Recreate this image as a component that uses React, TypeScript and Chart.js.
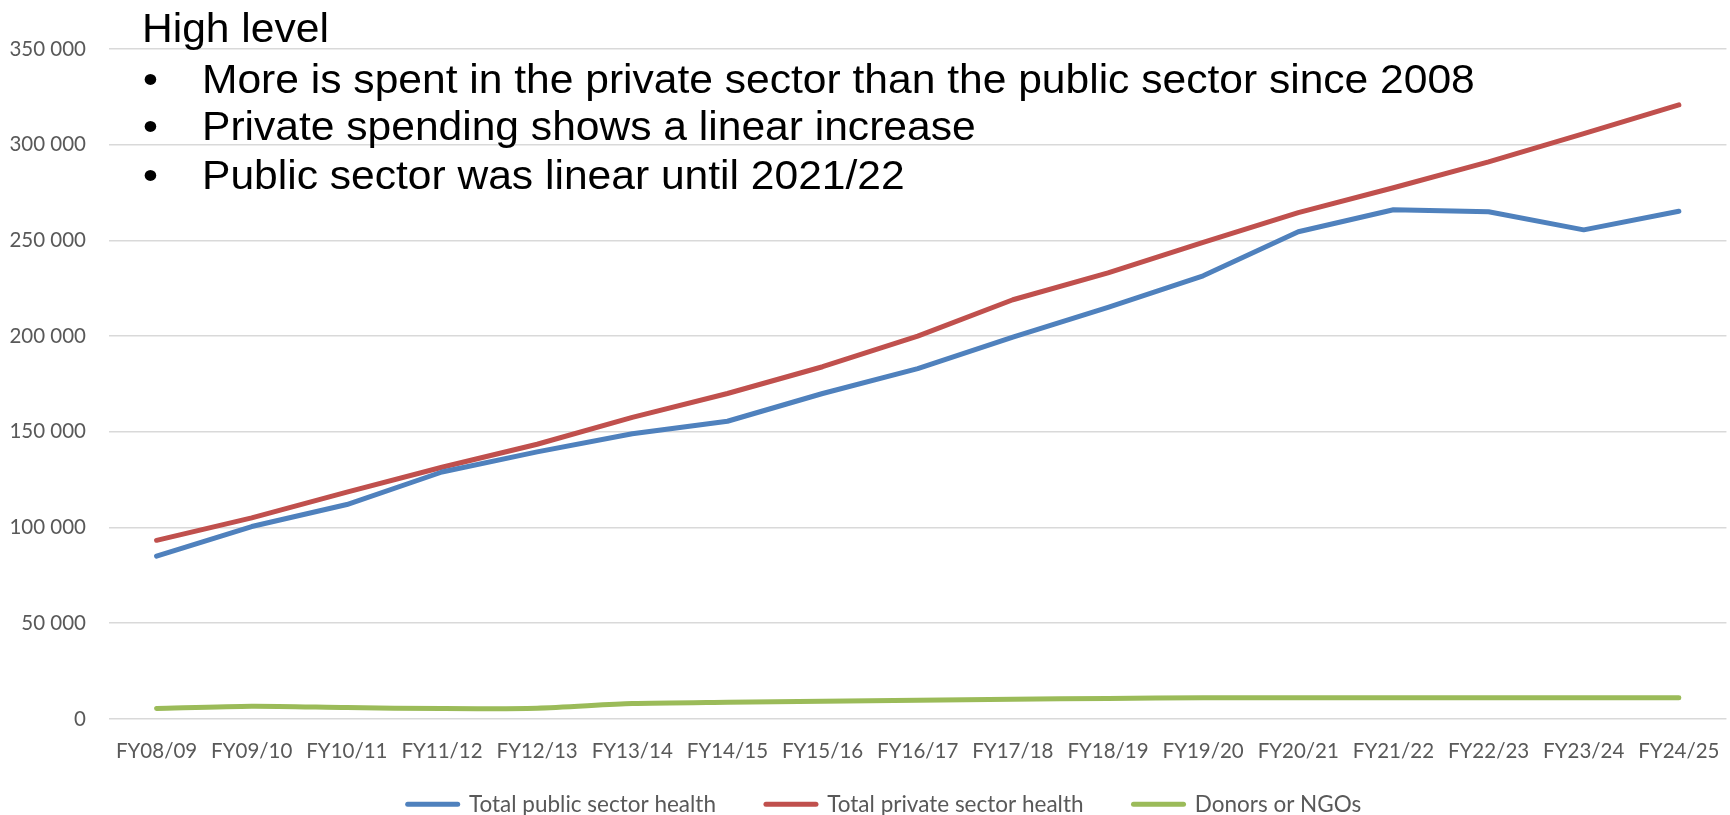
import React, { useEffect, useRef } from "react";
import { Chart, registerables } from "chart.js";

Chart.register(...registerables);

const categories = [
  "FY08/09", "FY09/10", "FY10/11", "FY11/12", "FY12/13", "FY13/14", "FY14/15", "FY15/16", "FY16/17",
  "FY17/18", "FY18/19", "FY19/20", "FY20/21", "FY21/22", "FY22/23", "FY23/24", "FY24/25",
];
const publicSector = [
  85000, 100500, 112000, 129000, 139500, 149000, 155500, 170000, 183000,
  199500, 215000, 231500, 254500, 266000, 265000, 255500, 265200,
];
const privateSector = [
  93300, 105000, 118500, 131500, 143500, 157500, 170000, 184000, 200000,
  219000, 233000, 249000, 264500, 277500, 291000, 305800, 320800,
];
const donors = [
  5400, 6600, 5900, 5400, 5600, 8000, 8700, 9200, 9800,
  10300, 10700, 11000, 11000, 11000, 11000, 11000, 11100,
];
const seriesNames = ["Total public sector health", "Total private sector health", "Donors or NGOs"];
const seriesColors = ["#4F81BD", "#C0504D", "#9BBB59"];
const yMin = 0;
const yMax = 350000;
const yStep = 50000;

const headline = "High level";
const bullets = [
  "More is spent in the private sector than the public sector since 2008",
  "Private spending shows a linear increase",
  "Public sector was linear until 2021/22",
];

const fmt = (v: number) => String(v).replace(/\B(?=(\d{3})+(?!\d))/g, " ");

// place the legend row so that its items sit where the reference has them
const legendPlace = {
  id: "legendPlace",
  afterLayout(chart: any) {
    const l = chart.legend;
    if (l) {
      const dy = l.top - 743;
      l.top -= dy;
      l.bottom -= dy;
      const dx = 15;
      l.left += dx;
      l.right += dx;
    }
  },
};

export default function App() {
  const ref = useRef<HTMLCanvasElement>(null);

  useEffect(() => {
    const tickFont = { family: "Lato", size: 20.5 };
    const chart = new Chart(ref.current!, {
      type: "line",
      data: {
        labels: categories,
        datasets: [publicSector, privateSector, donors].map((d, i) => ({
          label: seriesNames[i],
          data: d,
          borderColor: seriesColors[i],
          backgroundColor: seriesColors[i],
          borderWidth: 5,
          pointRadius: 0,
          pointHoverRadius: 0,
          tension: i === 2 ? 0.25 : 0,
          borderCapStyle: "round",
          borderJoinStyle: "round",
          fill: false,
        })),
      },
      options: {
        responsive: false,
        animation: false,
        devicePixelRatio: 1,
        layout: { padding: { top: 49, left: 0, right: 1, bottom: 0 } },
        plugins: {
          legend: {
            position: "bottom",
            labels: {
              usePointStyle: true,
              pointStyle: "line",
              pointStyleWidth: 50,
              padding: 50,
              color: "#595959",
              font: { family: "Lato", size: 22.5 },
              generateLabels: (c: any) =>
                c.data.datasets.map((ds: any, i: number) => ({
                  text: ds.label,
                  fillStyle: ds.borderColor,
                  strokeStyle: ds.borderColor,
                  lineWidth: 5,
                  lineCap: "round",
                  pointStyle: "line",
                  datasetIndex: i,
                  hidden: false,
                  fontColor: "#595959",
                })),
            },
          },
          tooltip: { enabled: false },
        },
        scales: {
          x: {
            offset: true,
            grid: { display: false, drawTicks: false },
            border: { display: false },
            ticks: { color: "#595959", font: tickFont, padding: 20.5, maxRotation: 0, autoSkip: false, crossAlign: "near" },
          },
          y: {
            min: yMin,
            max: yMax,
            grid: { color: "#d9d9d9", lineWidth: 1.5, drawTicks: false },
            border: { display: false },
            ticks: {
              stepSize: yStep,
              padding: 23,
              color: "#595959",
              font: tickFont,
              callback: (v: any) => fmt(Number(v)),
            },
            afterFit: (s: any) => {
              s.width = 109;
            },
          },
        },
      } as any,
      plugins: [legendPlace],
    });
    return () => chart.destroy();
  }, []);

  const textStyle: React.CSSProperties = {
    position: "absolute",
    fontFamily: '"Liberation Sans", Arial, sans-serif',
    fontSize: 40,
    lineHeight: "40px",
    color: "#000",
    whiteSpace: "nowrap",
    transform: "scaleX(1.064)",
    transformOrigin: "left top",
  };
  const bulletTops = [58.6, 105.8, 155.3];

  return (
    <div
      style={{
        position: "fixed",
        left: 0,
        top: 0,
        width: 1730,
        height: 815,
        overflow: "hidden",
        background: "#fff",
      }}
    >
      <canvas
        ref={ref}
        width={1740}
        height={867}
        style={{ position: "absolute", left: 0, top: 0, width: 1740, height: 867 }}
      />
      <div style={{ ...textStyle, left: 142, top: 7.5 }}>{headline}</div>
      {bullets.map((b, i) => (
        <React.Fragment key={i}>
          <div style={{ ...textStyle, left: 142.5, top: bulletTops[i] }}>•</div>
          <div style={{ ...textStyle, left: 202, top: bulletTops[i] }}>{b}</div>
        </React.Fragment>
      ))}
    </div>
  );
}
